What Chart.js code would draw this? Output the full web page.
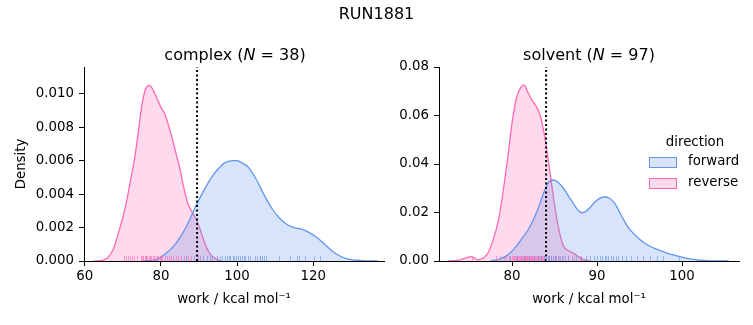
<!DOCTYPE html>
<html>
<head>
<meta charset="utf-8">
<script src="https://cdn.jsdelivr.net/npm/chart.js@4"></script>
<style>
  body { margin: 0; background: #fff; font-family: "DejaVu Sans", sans-serif; }
  #fig { position: relative; width: 753px; height: 325px; overflow: hidden; background: #fff; }
  canvas { position: absolute; top: 0; }
  .txt { position: absolute; white-space: nowrap; color: #000; transform: translate(-50%, -50%); z-index: 2; }
  .leg { position: absolute; z-index: 3; font-size: 13.33px; color: #000; white-space: nowrap; }
  .patch { position: absolute; width: 26px; height: 9px; z-index: 3; }
</style>
</head>
<body>
<div id="fig">
  <div class="txt" style="left:376.5px; top:13px; font-size:16px">RUN1881</div>
  <div class="txt" style="left:235px; top:54px; font-size:16px">complex (<i>N</i> = 38)</div>
  <div class="txt" style="left:589px; top:54px; font-size:16px">solvent (<i>N</i> = 97)</div>
  <canvas id="complexChart" width="400" height="325" style="left:0"></canvas>
  <canvas id="solventChart" width="363" height="325" style="left:390px"></canvas>
  <div class="txt" style="left:695px; top:141px; font-size:13.33px">direction</div>
  <div class="patch" style="left:649px; top:157px; border:1px solid #6495ed; background:rgba(100,149,237,0.25)"></div>
  <div class="leg" style="left:688px; top:153px">forward</div>
  <div class="patch" style="left:649px; top:178px; border:1px solid #ff69b4; background:rgba(255,105,180,0.25)"></div>
  <div class="leg" style="left:688px; top:174px">reverse</div>
</div>
<script>
// colours
const forwardColor = "#6495ed";
const reverseColor = "#ff69b4";

// complex leg: density curves
const complexForwardX = [75, 77, 79, 81, 83, 85, 87, 89, 91, 93, 95, 97, 99, 100, 101, 103, 105, 107, 109, 111, 113, 115, 117, 119, 121, 123, 125, 127, 129, 131, 134, 137];
const complexForwardY = [0, 0.00003, 0.0001, 0.0004, 0.0008, 0.0014, 0.0022, 0.0032, 0.0041, 0.0049, 0.0055, 0.0059, 0.0060, 0.0060, 0.0059, 0.0056, 0.0049, 0.0040, 0.0032, 0.0026, 0.0022, 0.0020, 0.0019, 0.0017, 0.0014, 0.0010, 0.0006, 0.0003, 0.00013, 0.00005, 0.00001, 0];
const complexReverseX = [62.5, 64, 66, 67.5, 69, 70, 71, 72, 73, 74, 75, 76, 77, 78, 79, 80, 81, 82, 83, 84, 85, 86, 87, 88, 89, 90, 91, 92, 93, 94, 95, 96];
const complexReverseY = [0, 0.00002, 0.0002, 0.0007, 0.0018, 0.0026, 0.0036, 0.0048, 0.0060, 0.0076, 0.0093, 0.0103, 0.0105, 0.0102, 0.0097, 0.0092, 0.0088, 0.0081, 0.0073, 0.0064, 0.0055, 0.0044, 0.0035, 0.0030, 0.0026, 0.0021, 0.0014, 0.0008, 0.0004, 0.0002, 0.00005, 0];
const complexRugForward = [86.5, 88.7, 90.3, 91.1, 92.0, 92.9, 93.3, 94.7, 95.5, 96.1, 96.8, 97.4, 97.9, 98.2, 98.9, 99.2, 99.7, 100.2, 100.8, 101.2, 101.7, 102.2, 102.9, 103.5, 104.7, 105.2, 105.9, 106.0, 106.5, 107.1, 107.6, 111.1, 113.9, 115.7, 116.4, 117.8, 120.1, 121.8];
const complexRugReverse = [70.3, 70.8, 71.3, 71.8, 72.4, 72.9, 73.6, 74.8, 75.0, 75.3, 75.7, 76.0, 76.1, 76.4, 76.8, 77.1, 77.4, 77.8, 78.3, 78.6, 79.0, 79.3, 79.7, 80.1, 80.4, 81.0, 81.5, 82.2, 82.7, 83.2, 83.9, 84.6, 85.2, 86.0, 87.0, 88.0, 89.8, 94.7];
const complexMarker = 89.5;
const complexXTicks = [60, 80, 100, 120];
const complexYTicks = [0, 0.002, 0.004, 0.006, 0.008, 0.010];

// solvent leg
const solventForwardX = [77.5, 78.5, 79.3, 80.1, 81, 82, 83, 83.6, 84.2, 84.8, 85.4, 86, 86.6, 87.2, 87.7, 88.2, 88.7, 89.2, 89.8, 90.4, 90.9, 91.4, 92, 92.5, 93, 93.5, 94, 95, 96, 97, 98, 99, 100, 101, 102, 103, 104, 105.5];
const solventForwardY = [0, 0.0008, 0.002, 0.0045, 0.0085, 0.0135, 0.021, 0.027, 0.032, 0.0334, 0.0325, 0.0302, 0.027, 0.0238, 0.0212, 0.0199, 0.0205, 0.0222, 0.0245, 0.026, 0.0264, 0.026, 0.0242, 0.0212, 0.0178, 0.0148, 0.0124, 0.0090, 0.0065, 0.0049, 0.0036, 0.0025, 0.0016, 0.0009, 0.0004, 0.00015, 0.00004, 0];
const solventReverseX = [72.5, 73.5, 74.5, 75.2, 76, 76.6, 77.2, 77.8, 78.4, 79, 79.5, 80, 80.5, 81, 81.4, 81.8, 82.3, 82.8, 83.3, 83.8, 84.2, 84.6, 85, 85.5, 86, 86.5, 87, 87.5, 88, 88.6, 89.2];
const solventReverseY = [0, 0.0002, 0.0012, 0.0018, 0.0005, 0.0012, 0.0035, 0.009, 0.017, 0.030, 0.043, 0.057, 0.067, 0.0715, 0.0726, 0.070, 0.0665, 0.064, 0.060, 0.052, 0.043, 0.033, 0.023, 0.013, 0.0065, 0.0045, 0.0036, 0.0026, 0.0013, 0.0004, 0];
const solventRugForward = [79.8, 80.6, 81.4, 82.0, 82.6, 83.0, 83.4, 83.7, 84.0, 84.2, 84.4, 84.6, 84.8, 85.0, 85.2, 85.4, 85.6, 85.9, 86.2, 86.6, 87.0, 87.5, 88.1, 88.7, 89.2, 89.6, 90.0, 90.3, 90.6, 90.9, 91.1, 91.3, 91.6, 91.9, 92.2, 92.5, 92.9, 93.4, 94.0, 94.7, 95.4, 96.2, 97.0, 97.8, 99.6];
const solventRugReverse = [75.3, 78.1, 78.6, 79.0, 79.3, 79.6, 79.8, 80.0, 80.1, 80.2, 80.4, 80.5, 80.6, 80.7, 80.8, 80.9, 81.0, 81.1, 81.2, 81.3, 81.35, 81.4, 81.5, 81.55, 81.6, 81.7, 81.8, 81.9, 82.0, 82.1, 82.2, 82.3, 82.4, 82.5, 82.6, 82.7, 82.8, 82.9, 83.0, 83.1, 83.2, 83.3, 83.4, 83.5, 83.6, 83.7, 83.8, 84.0, 84.2, 84.4, 84.6, 84.8, 85.1, 85.5, 86.0, 86.6, 87.3, 88.0];
const solventMarker = 84.0;
const solventXTicks = [80, 90, 100];
const solventYTicks = [0, 0.02, 0.04, 0.06, 0.08];

const tickFont = { family: "DejaVu Sans", size: 13.33 };

function toPoints(xs, ys) {
  return xs.map((x, i) => ({ x: x, y: ys[i] }));
}

// short ticks along the bottom (seaborn rugplot)
function makeRug(sets) {
  return {
    id: "rug",
    afterDatasetsDraw(chart) {
      const { ctx, chartArea, scales } = chart;
      sets.forEach(s => {
        ctx.save();
        ctx.strokeStyle = s.color;
        ctx.globalAlpha = 0.6;
        ctx.lineWidth = 1;
        s.values.forEach(v => {
          const px = Math.round(scales.x.getPixelForValue(v)) + 0.5;
          ctx.beginPath();
          ctx.moveTo(px, chartArea.bottom);
          ctx.lineTo(px, chartArea.bottom - 5);
          ctx.stroke();
        });
        ctx.restore();
      });
    }
  };
}

function kdeSet(points, color) {
  return {
    data: points,
    borderColor: color,
    backgroundColor: color + "40",
    borderWidth: 1.3,
    fill: "origin",
    pointRadius: 0,
    showLine: true,
    cubicInterpolationMode: "monotone"
  };
}

function makeChart(id, cfg) {
  new Chart(document.getElementById(id), {
    type: "scatter",
    data: {
      datasets: [
        {
          data: [{ x: cfg.marker, y: 0 }, { x: cfg.marker, y: cfg.yMax }],
          borderColor: "#000",
          borderWidth: 2,
          borderDash: [2, 2.5],
          pointRadius: 0,
          showLine: true,
          fill: false
        },
        kdeSet(toPoints(cfg.fx, cfg.fy), forwardColor),
        kdeSet(toPoints(cfg.rx, cfg.ry), reverseColor)
      ]
    },
    options: {
      responsive: false,
      animation: false,
      layout: { padding: { top: 67, right: cfg.padRight, bottom: 0, left: 0 } },
      plugins: { legend: { display: false }, tooltip: { enabled: false } },
      scales: {
        x: {
          type: "linear",
          min: cfg.xMin,
          max: cfg.xMax,
          border: { display: true, color: "#000", width: 1 },
          grid: { display: true, drawOnChartArea: false, drawTicks: true, tickLength: 5, color: "#000" },
          ticks: { font: tickFont, color: "#000", padding: 3 },
          afterBuildTicks: s => { s.ticks = cfg.xTicks.map(v => ({ value: v })); },
          afterFit: s => { s.height = 64; },
          title: { display: true, text: "work / kcal mol⁻¹", font: tickFont, color: "#000", padding: { top: 0, bottom: 17 } }
        },
        y: {
          min: 0,
          max: cfg.yMax,
          border: { display: true, color: "#000", width: 1 },
          grid: { display: true, drawOnChartArea: false, drawTicks: true, tickLength: 5, color: "#000" },
          ticks: { font: tickFont, color: "#000", padding: 5, callback: v => v.toFixed(cfg.digits) },
          afterBuildTicks: s => { s.ticks = cfg.yTicks.map(v => ({ value: v })); },
          afterFit: s => { s.width = cfg.yWidth; },
          title: { display: cfg.yTitle, text: "Density", font: tickFont, color: "#000", padding: { top: 14, bottom: 0 } }
        }
      }
    },
    plugins: [makeRug([
      { values: cfg.rugR, color: reverseColor },
      { values: cfg.rugF, color: forwardColor }
    ])]
  });
}

makeChart("complexChart", {
  fx: complexForwardX, fy: complexForwardY, rx: complexReverseX, ry: complexReverseY,
  rugF: complexRugForward, rugR: complexRugReverse, marker: complexMarker,
  xTicks: complexXTicks, yTicks: complexYTicks, xMin: 59.8, xMax: 138.6, yMax: 0.0116,
  digits: 3, yWidth: 84, padRight: 16, yTitle: true
});

makeChart("solventChart", {
  fx: solventForwardX, fy: solventForwardY, rx: solventReverseX, ry: solventReverseY,
  rugF: solventRugForward, rugR: solventRugReverse, marker: solventMarker,
  xTicks: solventXTicks, yTicks: solventYTicks, xMin: 71.4, xMax: 106.7, yMax: 0.08,
  digits: 2, yWidth: 49, padRight: 14, yTitle: false
});
</script>
</body>
</html>
